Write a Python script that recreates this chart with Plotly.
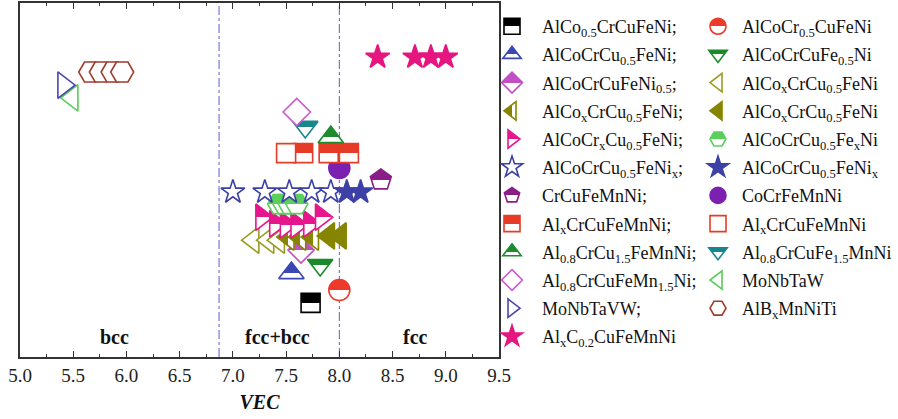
import plotly.graph_objects as go

# ---- VEC values (x) and vertical placement levels (y) per alloy series ----
co05_x, co05_y = [7.73], [15.3]
cr05_x, cr05_y = [8.00], [18.9]
cu05_x, cu05_y = [7.55], [23.7]
fe05_x, fe05_y = [7.82], [26.0]
ni05_x, ni05_y = [7.64], [30.2]
cox_open_x, cox_open_y = [7.19, 7.33, 7.43], [33.0, 33.0, 33.0]
cox_half_x, cox_half_y = [7.52, 7.63, 7.75], [33.9, 33.9, 33.9]
cox_full_x, cox_full_y = [7.90, 8.01], [34.2, 34.2]
crx_x, crx_y = [7.27, 7.40, 7.50, 7.60, 7.72, 7.83], [39.5, 37.6, 37.3, 37.3, 37.6, 39.5]
fex_x, fex_y = [7.43, 7.48, 7.53, 7.60], [43.2, 43.2, 43.2, 43.2]
nix_open_x, nix_open_y = [7.00, 7.30, 7.53, 7.74, 7.92], [46.6, 46.6, 46.6, 46.6, 46.6]
nix_full_x, nix_full_y = [8.07, 8.20], [46.6, 46.6]
crcufemnni_x, crcufemnni_y = [8.39], [50.0]
cantor_x, cantor_y = [8.00], [53.4]
alx_half_x, alx_half_y = [7.66, 7.90, 8.09], [57.6, 57.6, 57.6]
alx_open_x, alx_open_y = [7.50], [57.6]
cu15_x, cu15_y = [7.92], [62.1]
fe15_x, fe15_y = [7.68], [65.0]
mn15_x, mn15_y = [7.60], [69.2]
monbtaw_x, monbtaw_y = [5.49], [73.2]
monbtavw_x, monbtavw_y = [5.41], [76.8]
albx_x, albx_y = [5.66, 5.76, 5.87, 5.96], [80.5, 80.5, 80.5, 80.5]
alxc_x, alxc_y = [8.36, 8.71, 8.86, 9.00], [84.7, 84.7, 84.7, 84.7]

# phase boundaries and region labels
boundaries = [6.87, 8.0]
region_names = ["bcc", "fcc+bcc", "fcc"]
region_x = [5.89, 7.42, 8.72]
region_y = [5.6, 5.6, 5.6]
x_ticks = [5.0, 5.5, 6.0, 6.5, 7.0, 7.5, 8.0, 8.5, 9.0, 9.5]

# (label, x, y, symbol, colour, fill style, size, legend column)
series = [
    ("AlCo<sub>0.5</sub>CrCuFeNi;", co05_x, co05_y, "square", "#000000", "half-v", 19, "legend"),
    ("AlCoCr<sub>0.5</sub>CuFeNi", cr05_x, cr05_y, "circle", "#ee3a2a", "half-v", 21, "legend2"),
    ("AlCoCrCu<sub>0.5</sub>FeNi;", cu05_x, cu05_y, "triangle-up", "#3b47b3", "half-v", 22, "legend"),
    ("AlCoCrCuFe<sub>0.5</sub>Ni", fe05_x, fe05_y, "triangle-down", "#1b8a2a", "half-v", 22, "legend2"),
    ("AlCoCrCuFeNi<sub>0.5</sub>;", ni05_x, ni05_y, "diamond", "#c24fc4", "half-v", 20, "legend"),
    ("AlCo<sub>x</sub>CrCu<sub>0.5</sub>FeNi", cox_open_x, cox_open_y, "triangle-left", "#9b9b22", "open", 23, "legend2"),
    ("AlCo<sub>x</sub>CrCu<sub>0.5</sub>FeNi;", cox_half_x, cox_half_y, "triangle-left", "#858500", "half-h", 23, "legend"),
    ("AlCo<sub>x</sub>CrCu<sub>0.5</sub>FeNi", cox_full_x, cox_full_y, "triangle-left", "#858500", "full", 23, "legend2"),
    ("AlCoCr<sub>x</sub>Cu<sub>0.5</sub>FeNi;", crx_x, crx_y, "triangle-right", "#e6168c", "half-v", 23, "legend"),
    ("AlCoCrCu<sub>0.5</sub>Fe<sub>x</sub>Ni", fex_x, fex_y, "hexagon2", "#5bcf5b", "half-v", 22, "legend2"),
    ("AlCoCrCu<sub>0.5</sub>FeNi<sub>x</sub>;", nix_open_x, nix_open_y, "star", "#3d40a6", "open", 18, "legend"),
    ("AlCoCrCu<sub>0.5</sub>FeNi<sub>x</sub>", nix_full_x, nix_full_y, "star", "#3d40a6", "full", 18, "legend2"),
    ("CrCuFeMnNi;", crcufemnni_x, crcufemnni_y, "pentagon", "#8a1d86", "half-v", 22, "legend"),
    ("CoCrFeMnNi", cantor_x, cantor_y, "circle", "#7c20b0", "full", 21, "legend2"),
    ("Al<sub>x</sub>CrCuFeMnNi;", alx_half_x, alx_half_y, "square", "#e63b26", "half-v", 19, "legend"),
    ("Al<sub>x</sub>CrCuFeMnNi", alx_open_x, alx_open_y, "square", "#e63b26", "open", 19, "legend2"),
    ("Al<sub>0.8</sub>CrCu<sub>1.5</sub>FeMnNi;", cu15_x, cu15_y, "triangle-up", "#1d8b2e", "half-v", 22, "legend"),
    ("Al<sub>0.8</sub>CrCuFe<sub>1.5</sub>MnNi", fe15_x, fe15_y, "triangle-down", "#19868c", "half-v", 22, "legend2"),
    ("Al<sub>0.8</sub>CrCuFeMn<sub>1.5</sub>Ni;", mn15_x, mn15_y, "diamond", "#cc5acc", "open", 21, "legend"),
    ("MoNbTaW", monbtaw_x, monbtaw_y, "triangle-left", "#5acb5a", "open", 23, "legend2"),
    ("MoNbTaVW;", monbtavw_x, monbtavw_y, "triangle-right", "#4b45b3", "open", 23, "legend"),
    ("AlB<sub>x</sub>MnNiTi", albx_x, albx_y, "hexagon2", "#a03a2c", "open", 23, "legend2"),
    ("Al<sub>x</sub>C<sub>0.2</sub>CuFeMnNi", alxc_x, alxc_y, "star", "#e5167f", "full", 18, "legend"),
]

FONT = "Liberation Serif, Times New Roman, serif"

fig = go.Figure()
for i, (label, xs, ys, sym, col, style, size, leg) in enumerate(series):
    marker = dict(symbol=sym, size=size, line=dict(color=col, width=1.6))
    if style == "open":
        marker["color"] = "white"
    elif style == "full":
        marker["color"] = col
    else:
        marker["color"] = col
        marker["gradient"] = dict(type="vertical" if style == "half-v" else "horizontal",
                                  color="white")
    fig.add_trace(go.Scatter(
        x=xs, y=ys, mode="markers", name=label, marker=marker,
        legend=leg, legendgroup=f"g{i}", cliponaxis=False,
    ))

for b in boundaries:
    fig.add_shape(type="line", xref="x", yref="paper", x0=b, x1=b, y0=0, y1=1,
                  line=dict(color="#5b5bd6", width=1, dash="dashdot"), layer="below")

for name, rx, ry in zip(region_names, region_x, region_y):
    fig.add_annotation(x=rx, y=ry, xref="x", yref="y", text=f"<b>{name}</b>",
                       showarrow=False, font=dict(family=FONT, size=20, color="#111"))

legend_common = dict(
    xref="container", yref="container", xanchor="left", yanchor="top",
    orientation="v", bgcolor="rgba(0,0,0,0)", borderwidth=0,
    font=dict(family=FONT, size=18, color="#111"),
    tracegroupgap=1.8, itemclick=False, maxheight=410,
)

fig.update_layout(
    width=898, height=419, autosize=False,
    margin=dict(l=20, r=399, t=3, b=62, autoexpand=False),
    paper_bgcolor="white", plot_bgcolor="white",
    font=dict(family=FONT, color="#111"),
    showlegend=True,
    legend=dict(x=482 / 898, y=1 - 8 / 419, itemwidth=50, **legend_common),
    legend2=dict(x=694 / 898, y=1 - 8 / 419, itemwidth=38, **legend_common),
    xaxis=dict(
        range=[5.0, 9.5], tickvals=x_ticks, ticktext=[f"{v:.1f}" for v in x_ticks],
        ticks="inside", ticklen=6, tickwidth=1.3, tickcolor="#333",
        minor=dict(ticks="inside", ticklen=3.5, tickwidth=1.3, tickcolor="#333", dtick=0.25),
        showline=True, linecolor="#333", linewidth=1.8, mirror="ticks",
        showgrid=False, zeroline=False,
        tickfont=dict(family=FONT, size=19, color="#222"),
        title=dict(text="<b><i>VEC</i></b>", font=dict(family=FONT, size=20, color="#111"),
                   standoff=10),
    ),
    yaxis=dict(
        range=[0, 100], showticklabels=False, ticks="",
        showline=True, linecolor="#333", linewidth=1.8, mirror=True,
        showgrid=False, zeroline=False,
    ),
)

# Half-filled markers: turn each two-stop marker gradient into a hard split
# running through the symbol's own centre point (its local origin).
post = """
var gd = document.getElementById('{plot_id}');
function halfFill() {
  gd.querySelectorAll('path').forEach(function (el) {
    var f = window.getComputedStyle(el).fill || '';
    var m = f.match(/#([^"')]+)/);
    if (!m) return;
    var g = document.getElementById(m[1]);
    if (!g || g.tagName.toLowerCase() !== 'lineargradient') return;
    var bb = el.getBBox();
    if (!bb.width || !bb.height) return;
    var vert = g.getAttribute('x1') === g.getAttribute('x2');
    var off = vert ? (bb.y + bb.height) / bb.height : (bb.x + bb.width) / bb.width;
    off = Math.max(0, Math.min(1, off));
    g.querySelectorAll('stop').forEach(function (s) {
      s.setAttribute('offset', (off * 100).toFixed(1) + '%');
    });
  });
}
halfFill();
gd.on('plotly_afterplot', halfFill);
"""

fig.write_html("out.html", post_script=post)
